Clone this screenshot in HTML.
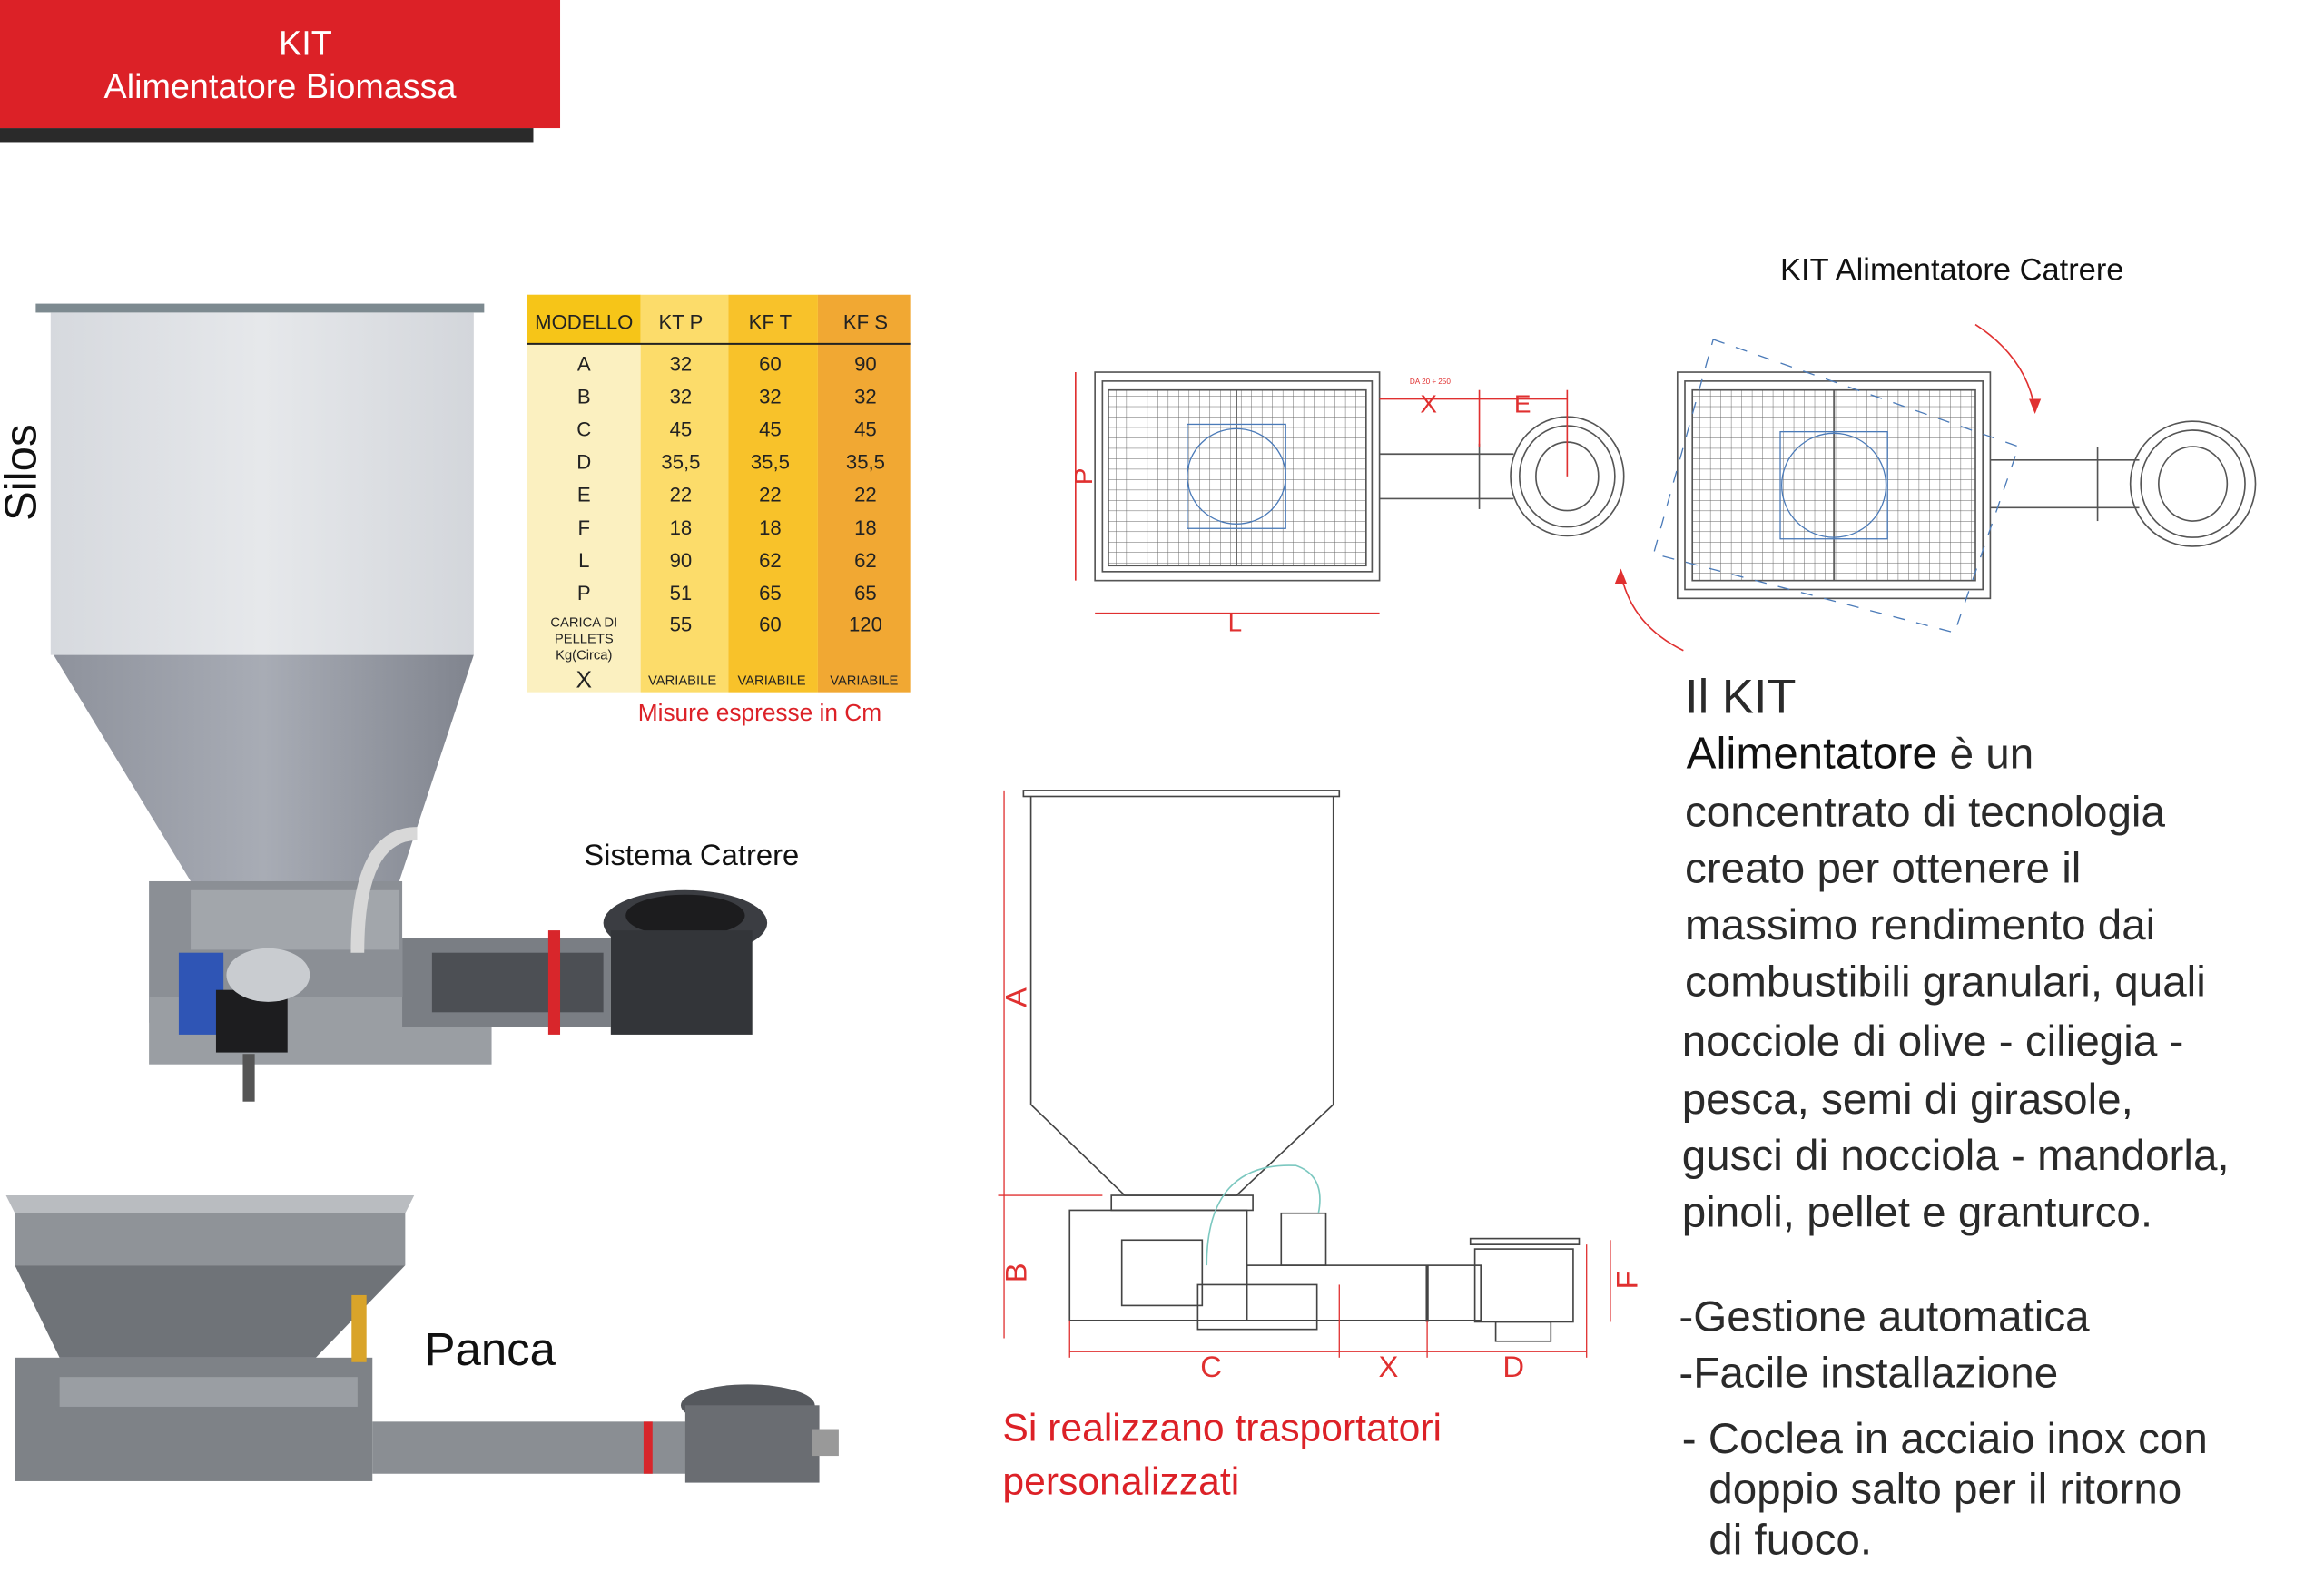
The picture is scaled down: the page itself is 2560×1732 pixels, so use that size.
<!DOCTYPE html>
<html><head><meta charset="utf-8"><style>
html,body{margin:0;padding:0;background:#fff;}
svg{display:block;}
text{font-family:"Liberation Sans",sans-serif;}
</style></head><body>
<svg width="2560" height="1732" viewBox="0 0 1560 1056" preserveAspectRatio="none" xmlns="http://www.w3.org/2000/svg">
<defs>
<pattern id="grid" width="7" height="7" patternUnits="userSpaceOnUse">
<path d="M0 0H7M0 0V7" stroke="#666" stroke-width="0.6" fill="none"/>
</pattern>
<linearGradient id="cone" x1="0" x2="1"><stop offset="0" stop-color="#8e929c"/><stop offset="0.5" stop-color="#a8acb5"/><stop offset="1" stop-color="#80848e"/></linearGradient>
<linearGradient id="body" x1="0" x2="1"><stop offset="0" stop-color="#d6d9de"/><stop offset="0.5" stop-color="#e6e8eb"/><stop offset="1" stop-color="#d3d6db"/></linearGradient>
</defs>

<!-- header -->
<rect x="0" y="86" width="358" height="10" fill="#2a2a2a"/>
<rect x="0" y="0" width="376" height="86" fill="#dc2127"/>
<text x="205" y="37" fill="#fff" font-size="23" text-anchor="middle">KIT</text>
<text x="188" y="66" fill="#fff" font-size="23" text-anchor="middle">Alimentatore Biomassa</text>

<!-- Silos label -->
<text transform="translate(24,350) rotate(-90)" font-size="30" fill="#111">Silos</text>

<!-- silo photo -->
<rect x="24" y="204" width="301" height="6" fill="#7d8a90"/>
<rect x="34" y="210" width="284" height="230" fill="url(#body)"/>
<polygon points="36,440 318,440 268,592 128,592" fill="url(#cone)"/>
<rect x="100" y="592" width="170" height="95" fill="#8b8f95"/>
<rect x="128" y="598" width="140" height="40" fill="#a2a6ab"/>
<rect x="100" y="670" width="230" height="45" fill="#9a9ea3"/>
<rect x="270" y="630" width="140" height="60" fill="#7a7e84"/>
<rect x="290" y="640" width="115" height="40" fill="#4c4f54"/>
<rect x="120" y="640" width="30" height="55" fill="#2f55b5"/>
<rect x="145" y="665" width="48" height="42" fill="#1d1d1f"/>
<ellipse cx="180" cy="655" rx="28" ry="18" fill="#c9ccd0"/>
<path d="M240 640 Q240 560 280 560" stroke="#d8d8d8" stroke-width="9" fill="none"/>
<rect x="163" y="708" width="8" height="32" fill="#555"/>
<rect x="368" y="625" width="8" height="70" fill="#d8262b"/>
<ellipse cx="460" cy="620" rx="55" ry="22" fill="#3b3d42"/>
<ellipse cx="460" cy="615" rx="40" ry="14" fill="#1c1c1e"/>
<rect x="410" y="625" width="95" height="70" fill="#333539"/>

<!-- table -->
<rect x="354" y="198" width="76" height="267" fill="#fbf0c0"/>
<rect x="354" y="198" width="76" height="33" fill="#f6c518"/>
<rect x="430" y="198" width="59" height="267" fill="#fcdc6a"/>
<rect x="489" y="198" width="60" height="267" fill="#f8c22a"/>
<rect x="549" y="198" width="62" height="267" fill="#f1a833"/>
<line x1="354" y1="231" x2="611" y2="231" stroke="#222" stroke-width="1.2"/>
<g font-size="13.5" fill="#222" text-anchor="middle">
<text x="392" y="221">MODELLO</text><text x="457" y="221">KT P</text><text x="517" y="221">KF T</text><text x="581" y="221">KF S</text>
<text x="392" y="249">A</text><text x="457" y="249">32</text><text x="517" y="249">60</text><text x="581" y="249">90</text>
<text x="392" y="271">B</text><text x="457" y="271">32</text><text x="517" y="271">32</text><text x="581" y="271">32</text>
<text x="392" y="293">C</text><text x="457" y="293">45</text><text x="517" y="293">45</text><text x="581" y="293">45</text>
<text x="392" y="315">D</text><text x="457" y="315">35,5</text><text x="517" y="315">35,5</text><text x="581" y="315">35,5</text>
<text x="392" y="337">E</text><text x="457" y="337">22</text><text x="517" y="337">22</text><text x="581" y="337">22</text>
<text x="392" y="359">F</text><text x="457" y="359">18</text><text x="517" y="359">18</text><text x="581" y="359">18</text>
<text x="392" y="381">L</text><text x="457" y="381">90</text><text x="517" y="381">62</text><text x="581" y="381">62</text>
<text x="392" y="403">P</text><text x="457" y="403">51</text><text x="517" y="403">65</text><text x="581" y="403">65</text>
<text x="457" y="424">55</text><text x="517" y="424">60</text><text x="581" y="424">120</text>
<text x="392" y="462" font-size="16">X</text>
</g>
<g font-size="9" fill="#222" text-anchor="middle">
<text x="392" y="421">CARICA DI</text><text x="392" y="432">PELLETS</text><text x="392" y="443">Kg(Circa)</text>
<text x="458" y="460">VARIABILE</text><text x="518" y="460">VARIABILE</text><text x="580" y="460">VARIABILE</text>
</g>
<text x="510" y="484" font-size="16" fill="#dc2127" text-anchor="middle">Misure espresse in Cm</text>

<text x="392" y="581" font-size="20" fill="#111">Sistema Catrere</text>

<!-- panca photo -->
<polygon points="4,803 278,803 272,815 10,815" fill="#b9bcc0"/>
<rect x="10" y="815" width="262" height="35" fill="#8f9398"/>
<polygon points="10,850 272,850 212,912 40,912" fill="#6f7378"/>
<rect x="10" y="912" width="240" height="83" fill="#7e8287"/>
<rect x="40" y="925" width="200" height="20" fill="#9a9ea3"/>
<rect x="236" y="870" width="10" height="45" fill="#d9a42a"/>
<rect x="250" y="955" width="215" height="35" fill="#8a8e93"/>
<rect x="432" y="955" width="6" height="35" fill="#d8262b"/>
<ellipse cx="502" cy="944" rx="45" ry="14" fill="#55585d"/>
<rect x="460" y="944" width="90" height="52" fill="#6a6d72"/>
<rect x="545" y="960" width="18" height="18" fill="#999"/>
<text x="285" y="917" font-size="31" fill="#111">Panca</text>

<!-- top diagrams -->
<text x="1195" y="188" font-size="21" fill="#111">KIT Alimentatore Catrere</text>
<g stroke="#555" fill="none" stroke-width="1">
<rect x="735" y="250" width="191" height="140"/>
<rect x="740" y="256" width="181" height="128"/>
<rect x="744" y="262" width="173" height="118" fill="url(#grid)"/>
<line x1="830" y1="262" x2="830" y2="380"/>
<line x1="926" y1="305" x2="1016" y2="305"/><line x1="926" y1="335" x2="1016" y2="335"/>
<line x1="993" y1="298" x2="993" y2="342"/>
<ellipse cx="1052" cy="320" rx="38" ry="40"/><ellipse cx="1052" cy="320" rx="32" ry="34"/><ellipse cx="1052" cy="320" rx="21" ry="23"/>
<rect x="1126" y="250" width="210" height="152"/>
<rect x="1131" y="256" width="200" height="140"/>
<rect x="1136" y="262" width="190" height="128" fill="url(#grid)"/>
<line x1="1231" y1="262" x2="1231" y2="390"/>
<line x1="1336" y1="309" x2="1436" y2="309"/><line x1="1336" y1="341" x2="1436" y2="341"/>
<line x1="1408" y1="300" x2="1408" y2="350"/>
<ellipse cx="1472" cy="325" rx="42" ry="42"/><ellipse cx="1472" cy="325" rx="35" ry="36"/><ellipse cx="1472" cy="325" rx="23" ry="25"/>
</g>
<g stroke="#4a7ab8" fill="none" stroke-width="0.8">
<ellipse cx="830" cy="320" rx="33" ry="32"/><rect x="797" y="285" width="66" height="70"/>
<ellipse cx="1231" cy="326" rx="35" ry="35"/><rect x="1195" y="290" width="72" height="72"/>
<path d="M1150 228 L1355 300 L1312 425 L1110 372 Z" stroke-dasharray="8 8"/>
</g>
<g stroke="#e03030" fill="none" stroke-width="1">
<line x1="722" y1="250" x2="722" y2="390"/><line x1="735" y1="412" x2="926" y2="412"/>
<line x1="926" y1="268" x2="1052" y2="268"/><line x1="993" y1="262" x2="993" y2="300"/><line x1="1052" y1="262" x2="1052" y2="320"/>
<path d="M1326 218 Q1360 240 1366 275"/><path d="M1130 437 Q1095 420 1088 385"/>
</g>
<polygon points="1362,268 1370,268 1366,278" fill="#e03030"/>
<polygon points="1084,392 1092,392 1088,382" fill="#e03030"/>
<g font-size="17" fill="#e03030" text-anchor="middle">
<text transform="translate(733,320) rotate(-90)">P</text>
<text x="829" y="424">L</text><text x="959" y="277">X</text><text x="1022" y="277">E</text>
</g>
<text x="960" y="258" font-size="5" fill="#e03030" text-anchor="middle">DA 20 ÷ 250</text>

<!-- bottom diagram -->
<g stroke="#444" fill="none" stroke-width="1">
<rect x="687" y="531" width="212" height="4"/>
<polyline points="692,535 692,742 755,803 830,803 895,742 895,535"/>
<rect x="746" y="803" width="95" height="10"/>
<rect x="718" y="813" width="119" height="74"/>
<rect x="837" y="850" width="157" height="37"/>
<rect x="753" y="833" width="54" height="44"/>
<rect x="860" y="815" width="30" height="35"/>
<rect x="804" y="863" width="80" height="30"/>
<rect x="987" y="832" width="73" height="4"/>
<rect x="990" y="839" width="66" height="49"/>
<rect x="1004" y="888" width="37" height="13"/>
<line x1="958" y1="850" x2="958" y2="888" stroke-width="2"/>
</g>
<path d="M810 850 Q810 780 870 783 Q890 790 885 815" stroke="#7cc8c0" fill="none"/>
<g stroke="#e03030" fill="none" stroke-width="0.8">
<line x1="674" y1="531" x2="674" y2="899"/><line x1="670" y1="803" x2="740" y2="803"/>
<line x1="718" y1="908" x2="1065" y2="908"/>
<line x1="718" y1="887" x2="718" y2="912"/><line x1="899" y1="863" x2="899" y2="912"/><line x1="958" y1="887" x2="958" y2="912"/><line x1="1065" y1="836" x2="1065" y2="912"/>
<line x1="1081" y1="833" x2="1081" y2="888"/>
</g>
<g font-size="20" fill="#e03030" text-anchor="middle">
<text transform="translate(689,670) rotate(-90)">A</text>
<text transform="translate(689,855) rotate(-90)">B</text>
<text transform="translate(1099,860) rotate(-90)">F</text>
<text x="813" y="925">C</text><text x="932" y="925">X</text><text x="1016" y="925">D</text>
</g>
<text x="673" y="968" font-size="26" fill="#dc2127">Si realizzano trasportatori</text>
<text x="673" y="1004" font-size="26" fill="#dc2127">personalizzati</text>

<!-- right text -->
<g fill="#2a2a2a" font-size="29">
<text x="1131" y="479" font-size="32">Il KIT</text>
<text x="1132" y="516" font-size="30" fill="#111">Alimentatore <tspan font-size="29" fill="#2a2a2a">  è un</tspan></text>
<text x="1131" y="555">concentrato di tecnologia</text>
<text x="1131" y="593">creato per ottenere il</text>
<text x="1131" y="631">massimo rendimento dai</text>
<text x="1131" y="669">combustibili granulari, quali</text>
<text x="1129" y="709">nocciole di olive - ciliegia -</text>
<text x="1129" y="748">pesca, semi di girasole,</text>
<text x="1129" y="786">gusci di nocciola - mandorla,</text>
<text x="1129" y="824">pinoli, pellet e granturco.</text>
<text x="1127" y="894">-Gestione automatica</text>
<text x="1127" y="932">-Facile installazione</text>
<text x="1129" y="976">- Coclea in acciaio inox con</text>
<text x="1147" y="1010">doppio salto per il ritorno</text>
<text x="1147" y="1044">di  fuoco.</text>
</g>
</svg>
</body></html>
